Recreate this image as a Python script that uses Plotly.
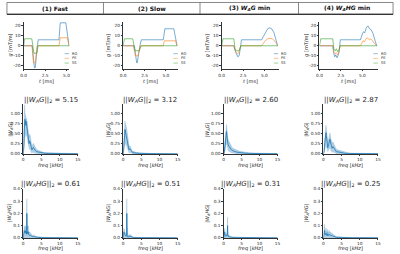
import plotly.graph_objects as go

# ---------------- DATA ----------------
col_titles = ["<b>(1) Fast</b>", "<b>(2) Slow</b>",
              "<b>(3) <i>W<sub>A</sub>G</i> min</b>", "<b>(4) <i>W<sub>A</sub>HG</i> min</b>"]
norm_G = [5.15, 3.12, 2.60, 2.87]
norm_HG = [0.61, 0.51, 0.31, 0.25]
g_ticks = [-20, -10, 0, 10, 20]
g_tick_text = ["-20", "-10", "0", "10", "20"]

# gradient waveforms (t in ms, g in mT/m)
fast_t_ro = [0, 1.0, 1.25, 1.35, 1.6, 1.7, 4.12, 4.27, 4.92, 5.3]
fast_g_ro = [0, 0, -22, -22, 0, 6, 6, 23, 23, 0]
fast_t_pe = [0, 0.97, 1.14, 1.36, 1.58, 4.12, 4.27, 5.1, 5.3]
fast_g_pe = [0, 0, -17, -17, 0, 0, 8, 8, 0]
fast_t_ss = [0, 0.1, 0.95, 1.2, 1.55, 1.67, 5.3]
fast_g_ss = [0, 7, 7, -7.5, -7.5, 0, 0]

slow_t_ro = [0, 1.31, 1.58, 1.65, 1.96, 2.12, 4.69, 4.88, 5.92, 6.3]
slow_g_ro = [0, 0, -17, -17, 0, 6, 6, 17, 17, 0]
slow_t_pe = [0, 1.19, 1.42, 1.73, 2.0, 4.69, 4.81, 6.12, 6.3]
slow_g_pe = [0, 0, -10, -10, 0, 0, 5, 5, 0]
slow_t_ss = [0, 0.15, 1.12, 1.38, 1.88, 2.12, 6.3]
slow_g_ss = [0, 7, 7, -5, -5, 0, 0]

wg_t_ro = [0, 1.42, 1.58, 1.73, 1.88, 2.04, 2.15, 2.23, 2.31, 4.69, 4.85, 5.08, 5.38, 5.62, 5.85, 6.12, 6.35, 6.54]
wg_g_ro = [0, 0, -5, -9, -11, -10, -6, 0, 6, 6, 9, 13, 17, 18, 17, 13, 7, 0]
wg_t_pe = [0, 1.42, 1.54, 1.69, 1.85, 2.0, 2.12, 2.23, 4.69, 4.85, 5.08, 5.38, 5.65, 5.92, 6.19, 6.42, 6.54]
wg_g_pe = [0, 0, -3, -7, -8, -7, -3, 0, 0, 2, 5, 7, 7.5, 7, 5, 2, 0]
wg_t_ss = [0, 0.15, 1.42, 1.58, 1.77, 2.0, 2.12, 2.23, 6.54]
wg_g_ss = [0, 7, 7, -4, -5, -5, -3, 0, 0]

whg_t_ro = [0, 1.55, 1.67, 1.78, 1.89, 2.05, 2.2, 2.31, 2.42, 4.77, 4.92, 5.11, 5.27, 5.45, 5.64, 5.83, 6.02, 6.25, 6.48, 6.67]
whg_g_ro = [0, 0, -8, -11, -9, -12, -9, -5, 6, 6, 10, 14, 13, 18, 20, 17, 16, 12, 5, 0]
whg_t_pe = [0, 1.55, 1.67, 1.82, 1.97, 2.12, 2.27, 2.39, 4.77, 4.92, 5.08, 5.23, 5.42, 5.61, 5.8, 5.98, 6.21, 6.44, 6.67]
whg_g_pe = [0, 0, -6, -8, -7, -9, -6, 0, 0, 3, 5, 4, 7, 8, 6, 7, 4, 2, 0]
whg_t_ss = [0, 0.15, 1.55, 1.67, 1.82, 1.97, 2.12, 2.27, 2.39, 6.7]
whg_g_ss = [0, 7, 7, -3, -5, -3, -6, -4, 0, 0]

# |W_A G| spectra (freq in kHz): upper / mid / lower
freq_g = [0, .2, .4, .5, .6, .7, .8, .9, 1.0, 1.1, 1.2, 1.4, 1.6, 1.8, 2.0, 2.2, 2.4, 2.6, 2.8, 3.0,
          3.3, 3.6, 4.0, 4.5, 5.0, 5.5, 6.0, 7.0, 8.0, 9.0, 10, 12, 14, 15]
fast_G_up = [0, .55, 1.2, 1.0, .95, .92, .93, .90, .88, .80, .72, .60, .40, .48, .42, .28, .20, .22, .26, .22,
             .16, .12, .09, .07, .05, .04, .035, .03, .025, .02, .02, .015, .01, .01]
fast_G_mid = [0, .25, .80, .85, .78, .70, .80, .72, .75, .62, .55, .45, .25, .32, .25, .15, .10, .14, .16, .12,
              .08, .06, .05, .04, .025, .02, .015, .012, .01, .008, .008, .006, .005, .005]
fast_G_lo = [0, .02, .20, .45, .50, .40, .45, .40, .45, .35, .30, .20, .10, .12, .06, .03, .02, .03, .04, .02,
             .01, .01, 0, 0, 0, 0, 0, 0, 0, 0, 0, 0, 0, 0]
slow_G_up = [0, .45, .70, .80, .75, .72, .74, .65, .60, .55, .50, .35, .18, .20, .18, .12, .08, .07, .06, .06,
             .05, .04, .035, .03, .025, .02, .02, .015, .012, .01, .01, .008, .006, .005]
slow_G_mid = [0, .15, .45, .60, .55, .48, .52, .45, .42, .38, .32, .20, .10, .13, .10, .06, .04, .035, .03, .03,
              .025, .02, .015, .012, .01, .01, .008, .007, .006, .005, .005, .004, .003, .003]
slow_G_lo = [0, .02, .15, .25, .25, .20, .22, .18, .15, .12, .10, .05, .02, .03, .02, 0, 0, 0, 0, 0,
             0, 0, 0, 0, 0, 0, 0, 0, 0, 0, 0, 0, 0, 0]
wg_G_up = [0, .15, .35, .45, .55, .65, .72, .62, .50, .42, .36, .32, .28, .25, .22, .18, .15, .14, .13, .11,
           .10, .09, .08, .065, .055, .045, .04, .03, .025, .02, .018, .012, .01, .01]
wg_G_mid = [0, .06, .20, .30, .40, .50, .55, .45, .35, .28, .24, .20, .16, .15, .12, .10, .08, .08, .07, .06,
            .05, .045, .04, .03, .025, .02, .018, .014, .012, .01, .008, .006, .005, .005]
wg_G_lo = [0, 0, .05, .10, .15, .20, .25, .18, .12, .10, .08, .06, .04, .04, .03, .02, .02, .02, .01, .01,
           0, 0, 0, 0, 0, 0, 0, 0, 0, 0, 0, 0, 0, 0]
whg_G_up = [0, .20, .45, .55, .65, .70, .62, .50, .40, .32, .30, .35, .48, .52, .40, .28, .25, .30, .27, .22,
            .16, .11, .10, .08, .06, .045, .035, .025, .02, .018, .015, .012, .01, .01]
whg_G_mid = [0, .08, .28, .38, .48, .52, .45, .32, .22, .16, .15, .22, .32, .36, .26, .16, .14, .18, .15, .12,
             .08, .05, .05, .04, .03, .02, .015, .012, .01, .008, .007, .006, .005, .005]
whg_G_lo = [0, .01, .08, .12, .18, .20, .15, .10, .06, .04, .04, .08, .12, .14, .08, .04, .03, .05, .04, .03,
            .01, 0, 0, 0, 0, 0, 0, 0, 0, 0, 0, 0, 0, 0]

# |W_A HG| spectra
freq_hg = [0, .1, .2, .3, .4, .5, .6, .7, .8, .9, .95, 1.0, 1.05, 1.1, 1.15, 1.2, 1.3, 1.4, 1.5, 1.6, 1.7, 1.8,
           2.0, 2.2, 2.4, 2.6, 2.8, 3.0, 3.5, 4.0, 5.0, 6.0, 8.0, 10, 12, 15]
fast_HG_up = [0, .04, .09, .10, .08, .07, .09, .10, .08, .06, .12, .32, .14, .08, .10, .07, .08, .10, .06, .05, .04, .05,
              .04, .03, .025, .02, .025, .02, .012, .01, .006, .005, .004, .003, .003, .002]
fast_HG_mid = [0, .02, .05, .06, .05, .04, .05, .06, .04, .03, .06, .20, .07, .04, .05, .035, .04, .05, .03, .025, .02, .025,
               .02, .015, .012, .01, .012, .01, .006, .005, .003, .003, .002, .002, .002, .001]
slow_HG_up = [0, .06, .08, .07, .05, .04, .03, .03, .03, .04, .10, .32, .10, .03, .02, .02, .02, .025, .02, .015, .02, .03,
              .025, .015, .01, .01, .008, .006, .005, .004, .003, .003, .002, .002, .002, .002]
slow_HG_mid = [0, .03, .05, .04, .03, .02, .015, .015, .015, .02, .05, .20, .05, .015, .01, .01, .01, .012, .01, .008, .01, .015,
               .012, .008, .005, .005, .004, .003, .003, .002, .002, .002, .001, .001, .001, .001]
wg_HG_up = [0, .03, .05, .08, .04, .03, .03, .035, .03, .03, .03, .04, .08, .17, .06, .03, .025, .02, .02, .015, .015, .015,
            .012, .01, .01, .008, .008, .006, .005, .004, .003, .003, .002, .002, .002, .002]
wg_HG_mid = [0, .015, .03, .05, .02, .015, .015, .02, .015, .015, .015, .02, .04, .10, .03, .015, .012, .01, .01, .008, .008, .008,
             .006, .005, .005, .004, .004, .003, .003, .002, .002, .002, .001, .001, .001, .001]
whg_HG_up = [0, .05, .08, .11, .06, .05, .06, .08, .05, .04, .04, .05, .04, .05, .06, .07, .05, .04, .05, .06, .05, .04,
             .05, .035, .04, .03, .025, .02, .012, .01, .006, .005, .004, .003, .003, .002]
whg_HG_mid = [0, .02, .04, .06, .03, .025, .03, .04, .025, .02, .02, .025, .02, .025, .03, .035, .025, .02, .025, .03, .025, .02,
              .025, .018, .02, .015, .012, .01, .006, .005, .003, .003, .002, .002, .002, .001]

waves = [
    [(fast_t_ro, fast_g_ro), (fast_t_pe, fast_g_pe), (fast_t_ss, fast_g_ss)],
    [(slow_t_ro, slow_g_ro), (slow_t_pe, slow_g_pe), (slow_t_ss, slow_g_ss)],
    [(wg_t_ro, wg_g_ro), (wg_t_pe, wg_g_pe), (wg_t_ss, wg_g_ss)],
    [(whg_t_ro, whg_g_ro), (whg_t_pe, whg_g_pe), (whg_t_ss, whg_g_ss)],
]
spec_G = [(fast_G_lo, fast_G_up, fast_G_mid), (slow_G_lo, slow_G_up, slow_G_mid),
          (wg_G_lo, wg_G_up, wg_G_mid), (whg_G_lo, whg_G_up, whg_G_mid)]
spec_HG = [(fast_HG_up, fast_HG_mid), (slow_HG_up, slow_HG_mid),
           (wg_HG_up, wg_HG_mid), (whg_HG_up, whg_HG_mid)]
channel_names = ["RO", "PE", "SS"]

# ---------------- LAYOUT ----------------
W, H = 400, 254
def fx(p): return p / W
def fy(p): return 1 - p / H

ch_colors = ["rgba(31,119,180,0.6)", "rgba(255,127,14,0.6)", "rgba(44,160,44,0.6)"]
band_col = "rgba(31,119,180,0.35)"
line_col = "rgb(31,119,180)"
txt_col = "#262626"
FONT = "DejaVu Sans"
TICK = 4.3
LAB = 5

row1_x = [(21, 67.5, 5.35), (122, 178, 6.45), (222, 280, 6.68), (321.3, 381, 6.85)]
row1_y = (20, 68.5, [-23.4, 24.2])
row2_x = [(20.5, 76), (122, 177.3), (224, 278.7), (325.3, 380.7)]
row2_y = (104.1, 155, [0, 1.22])
row3_y = (190.7, 240.7, [0, 0.4])
ylab_x = [7.3, 107.3, 208, 308]

fig = go.Figure()
layout = dict(width=W, height=H, margin=dict(l=0, r=0, t=0, b=0),
              paper_bgcolor="white", plot_bgcolor="white", showlegend=False,
              font=dict(family=FONT, size=5, color=txt_col))
annotations = []
shapes = []

def axis_common(**kw):
    d = dict(showgrid=False, zeroline=False, showline=True, linecolor="#333", linewidth=0.6,
             ticks="outside", ticklen=1.5, tickwidth=0.6, tickcolor="#333",
             tickfont=dict(family=FONT, size=TICK, color=txt_col))
    d.update(kw)
    return d

def ann(x, y, text, size, angle=0, xanchor="center", color=txt_col):
    annotations.append(dict(x=fx(x), y=fy(y), xref="paper", yref="paper", text=text,
                            showarrow=False, textangle=angle, xanchor=xanchor, yanchor="middle",
                            font=dict(size=size, color=color, family=FONT)))

ai = 0
for c in range(4):
    # ---- row 1 : waveforms
    ai += 1
    xa = "x" if ai == 1 else f"x{ai}"
    ya = "y" if ai == 1 else f"y{ai}"
    x0, x1, tmax = row1_x[c]
    layout["xaxis" if ai == 1 else f"xaxis{ai}"] = axis_common(
        domain=[fx(x0), fx(x1)], range=[0, tmax], anchor=ya,
        tickvals=[0, 2.5, 5.0], ticktext=["0.0", "2.5", "5.0"])
    layout["yaxis" if ai == 1 else f"yaxis{ai}"] = axis_common(
        domain=[fy(row1_y[1]), fy(row1_y[0])], range=row1_y[2], anchor=xa,
        tickvals=g_ticks, ticktext=g_tick_text)
    for k, (tt, gg) in enumerate(waves[c]):
        fig.add_trace(go.Scatter(x=tt, y=gg, mode="lines", name=channel_names[k],
                                 line=dict(color=ch_colors[k], width=1), xaxis=xa, yaxis=ya))
    # legend (lower right)
    lx = x1 - 5
    for k in range(3):
        ly = 52.7 + 4.8 * k
        shapes.append(dict(type="line", xref="paper", yref="paper",
                           x0=fx(lx), x1=fx(lx + 4.5), y0=fy(ly), y1=fy(ly),
                           line=dict(color=ch_colors[k], width=0.8)))
        ann(lx + 5.3, ly, channel_names[k], 3.6, xanchor="left")
    ann((x0 + x1) / 2, 80.5, "<i>t</i> [ms]", LAB)
    ann(ylab_x[c], 44.3, "<i>g</i> [mT/m]", LAB, angle=-90)
    ann([53, 151, 250, 349][c], 6.3, col_titles[c], 6, color="#111")

    # ---- row 2 : |W_A G|
    ai += 1
    xa = f"x{ai}"; ya = f"y{ai}"
    x0, x1 = row2_x[c]
    layout[f"xaxis{ai}"] = axis_common(domain=[fx(x0), fx(x1)], range=[0, 15], anchor=ya,
                                        tickvals=[0, 5, 10, 15])
    layout[f"yaxis{ai}"] = axis_common(domain=[fy(row2_y[1]), fy(row2_y[0])], range=row2_y[2], anchor=xa,
                                        tickvals=[0, 0.25, 0.5, 0.75, 1.0], tickformat=".2f")
    lo, up, mid = spec_G[c]
    fig.add_trace(go.Scatter(x=freq_g, y=lo, mode="lines", line=dict(width=0, color=band_col),
                             xaxis=xa, yaxis=ya))
    fig.add_trace(go.Scatter(x=freq_g, y=up, mode="lines", fill="tonexty", fillcolor=band_col,
                             line=dict(width=0.4, color="rgba(31,119,180,0.45)"), xaxis=xa, yaxis=ya))
    fig.add_trace(go.Scatter(x=freq_g, y=mid, mode="lines", line=dict(width=0.8, color=line_col),
                             xaxis=xa, yaxis=ya))
    ann((x0 + x1) / 2, 100.3, f"||<i>W<sub>A</sub>G</i>||<sub>2</sub> = {norm_G[c]:.2f}", 7)
    ann((x0 + x1) / 2, 166.3, "<i>freq</i> [<i>kHz</i>]", LAB)
    ann(ylab_x[c], 130, "|<i>W<sub>A</sub>G</i>|", LAB, angle=-90)

    # ---- row 3 : |W_A HG|
    ai += 1
    xa = f"x{ai}"; ya = f"y{ai}"
    layout[f"xaxis{ai}"] = axis_common(domain=[fx(x0), fx(x1)], range=[0, 15], anchor=ya,
                                        tickvals=[0, 5, 10, 15])
    layout[f"yaxis{ai}"] = axis_common(domain=[fy(row3_y[1]), fy(row3_y[0])], range=row3_y[2], anchor=xa,
                                        tickvals=[0, 0.1, 0.2, 0.3, 0.4], tickformat=".1f")
    up, mid = spec_HG[c]
    fig.add_trace(go.Scatter(x=freq_hg, y=up, mode="lines", fill="tozeroy", fillcolor=band_col,
                             line=dict(width=0.4, color="rgba(31,119,180,0.45)"), xaxis=xa, yaxis=ya))
    fig.add_trace(go.Scatter(x=freq_hg, y=mid, mode="lines", line=dict(width=0.8, color=line_col),
                             xaxis=xa, yaxis=ya))
    ann((x0 + x1) / 2, 185.5, f"||<i>W<sub>A</sub>HG</i>||<sub>2</sub> = {norm_HG[c]:.2f}", 7)
    ann((x0 + x1) / 2, 251.2, "<i>freq</i> [<i>kHz</i>]", LAB)
    ann(ylab_x[c], 215, "|<i>W<sub>A</sub>HG</i>|", LAB, angle=-90)

# header table lines
shapes.append(dict(type="rect", xref="paper", yref="paper", x0=fx(4), x1=fx(396), y0=fy(12.5), y1=fy(0.5),
                   line=dict(color="#555", width=0.7)))
shapes.append(dict(type="line", xref="paper", yref="paper", x0=fx(4), x1=fx(396), y0=fy(12.5), y1=fy(12.5),
                   line=dict(color="#111", width=1)))
for vx in [102, 200, 300]:
    shapes.append(dict(type="line", xref="paper", yref="paper", x0=fx(vx), x1=fx(vx), y0=fy(0.5), y1=fy(12.5),
                       line=dict(color="#555", width=0.7)))

layout["annotations"] = annotations
layout["shapes"] = shapes
fig.update_layout(**layout)
fig.write_html("out.html", config={"displayModeBar": False},
               post_script="document.body.style.margin='0';document.body.style.overflow='hidden';")
